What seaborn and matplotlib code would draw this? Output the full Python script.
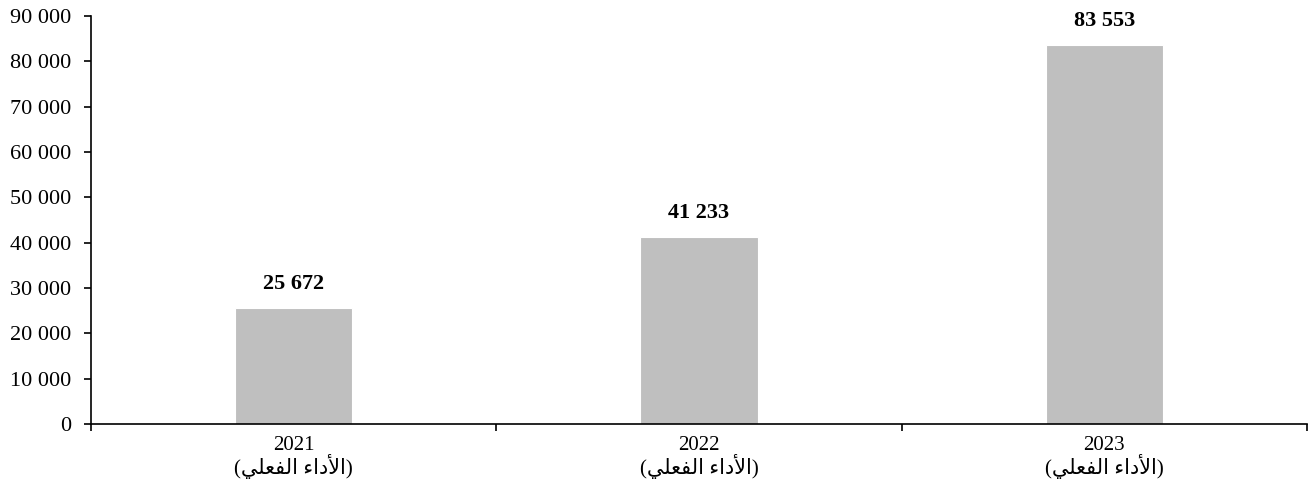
import numpy as np
import pandas as pd
import seaborn as sns
import matplotlib.pyplot as plt
from matplotlib.ticker import FuncFormatter, FixedLocator

years = ['2021', '2022', '2023']
values = [25672, 41233, 83553]

# "(الأداء الفعلي)" written in shaped, visual order (no bidi engine in matplotlib)
actual_ar = '(' + '\uFEF2\uFEE0\uFECC\uFED4\uFEDF\uFE8D' + ' ' + '\uFE80\uFE8D\uFEA9\uFEF7\uFE8D' + ')'
tick_labels = [y + '\n' + actual_ar for y in years]

sns.set_style('white')
plt.rcParams['font.family'] = ['Liberation Serif', 'DejaVu Sans']
plt.rcParams['text.color'] = 'black'
plt.rcParams['xtick.color'] = 'black'
plt.rcParams['ytick.color'] = 'black'
plt.rcParams['xtick.labelcolor'] = 'black'
plt.rcParams['ytick.labelcolor'] = 'black'

df = pd.DataFrame({'year': tick_labels, 'value': values})

fig = plt.figure(figsize=(13.09, 4.9), dpi=100)
ax = fig.add_axes([0.0695, 0.135, 0.929, 0.832])

sns.barplot(data=df, x='year', y='value', color='#BFBFBF', saturation=1,
            width=0.29, edgecolor='white', linewidth=0.8, ax=ax)

for i, v in enumerate(values):
    ax.annotate(f'{v:,}'.replace(',', ' '), (i, v), xytext=(0, 10),
                textcoords='offset points', ha='center', va='bottom',
                fontsize=16, fontweight='bold', color='black')

ax.set_ylim(0, 90000)
ax.set_yticks(np.arange(0, 90001, 10000))
ax.yaxis.set_major_formatter(FuncFormatter(lambda v, p: f'{v:,.0f}'.replace(',', ' ')))
ax.set_xlim(-0.5, 2.5)
ax.xaxis.set_minor_locator(FixedLocator([-0.5, 0.5, 1.5, 2.5]))
ax.tick_params(axis='x', which='major', bottom=True, length=0, pad=9, labelsize=15)
ax.tick_params(axis='x', which='minor', bottom=True, length=5, width=1.2, direction='out')
ax.tick_params(axis='y', left=True, length=5, width=1.2, direction='out', labelsize=16, pad=9)
for lbl in ax.get_xticklabels():
    lbl.set_linespacing(0.95)

ax.set_xlabel('')
ax.set_ylabel('')
for s in ['top', 'right']:
    ax.spines[s].set_visible(False)
for s in ['left', 'bottom']:
    ax.spines[s].set_color('black')
    ax.spines[s].set_linewidth(1.2)

fig.savefig('out.png', dpi=100)
